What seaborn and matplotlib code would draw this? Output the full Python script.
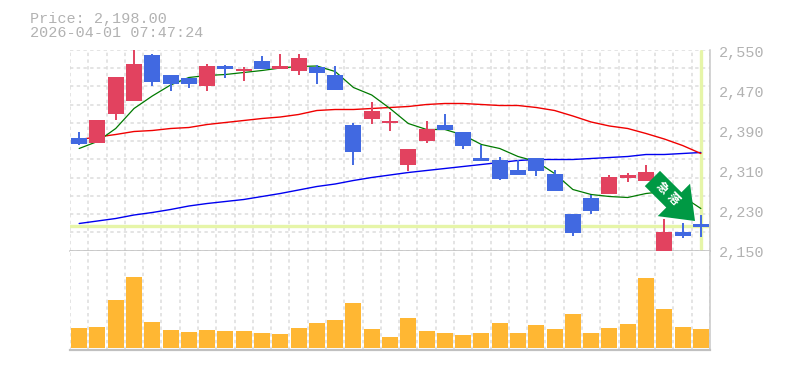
import matplotlib
matplotlib.use("Agg")
import matplotlib.pyplot as plt
import numpy as np
import pandas as pd
import seaborn as sns

sns.set_theme(style="white")

# --- data ---
body_top = [2374,2410,2496,2522,2540,2500,2494,2518,2518,2512,2528,2518,2534,2516,2500,2400,2428,2408,2352,2392,2400,2386,2334,2330,2310,2334,2302,2222,2254,2296,2300,2306,2186,2186,2202]
body_bottom = [2362,2364,2422,2448,2486,2482,2482,2478,2512,2508,2512,2512,2508,2504,2470,2346,2412,2404,2320,2368,2390,2358,2328,2292,2300,2308,2268,2184,2228,2262,2294,2288,2146,2178,2196]
highs = [2386,2410,2496,2550,2542,2500,2494,2522,2520,2516,2538,2542,2542,2520,2518,2404,2446,2426,2352,2408,2422,2386,2360,2336,2330,2334,2310,2222,2260,2300,2304,2320,2212,2204,2220]
lows = [2360,2364,2410,2448,2478,2468,2474,2468,2494,2488,2512,2512,2500,2482,2470,2320,2402,2388,2308,2364,2390,2352,2328,2290,2300,2298,2268,2178,2222,2262,2286,2288,2146,2174,2176]
candle_kind = ["b","r","r","r","b","b","b","r","b","r","b","r","r","b","b","b","r","r","r","r","b","b","b","b","b","b","b","b","b","r","r","r","r","b","b"]
ma_short = [2353,2367,2393,2433,2458,2480,2495,2499,2501,2505,2509,2514,2517,2518,2507,2475,2460,2433,2403,2391,2391,2380,2361,2353,2337,2327,2303,2271,2261,2257,2255,2263,2267,2257,2233]
ma_mid = [2371,2376,2381,2387,2389,2393,2395,2401,2405,2409,2413,2416,2421,2429,2431,2431,2433,2435,2437,2441,2443,2443,2441,2439,2439,2435,2429,2418,2406,2398,2393,2383,2372,2359,2343]
ma_long = [2203,2208,2213,2220,2225,2231,2238,2243,2247,2251,2257,2263,2270,2277,2282,2289,2295,2300,2305,2309,2313,2317,2321,2325,2329,2331,2331,2331,2333,2335,2337,2341,2341,2343,2345]
volumes = [200,210,480,710,260,180,160,180,170,170,150,140,200,250,280,450,190,110,300,170,150,130,150,250,150,230,190,340,150,200,240,700,390,210,190]
price_ticks = [2550,2470,2390,2310,2230,2150]
date_idx = [4,9,14,19,24,29,34]
date_labels = ["2/16","2/24","3/3","3/10","3/17","3/25","4/1"]
last_price = 2198
signal_chars = ["急", "落"]
signal_x = [31.86, 32.46]
signal_y = [2275, 2252]

MONO = "Liberation Mono"
GREY = "#b2b2b2"
W, H = 785, 370
df = pd.DataFrame({"i": np.arange(len(volumes)), "vol": volumes, "short": ma_short, "mid": ma_mid, "long": ma_long})

fig = plt.figure(figsize=(W/100, H/100), dpi=100, facecolor="white")
ax = fig.add_axes([70/W, 1-250.5/H, 640/W, 200.5/H])
axv = fig.add_axes([70/W, 1-350/H, 640/W, 99.5/H])

for a in (ax, axv):
    a.set_xlim(-0.5, 34.5)
    a.set_facecolor("white")
    a.set_xticks(np.arange(-0.5, 35, 1))
    a.tick_params(length=0, labelbottom=False, labelleft=False)
    a.grid(axis="x", color="#dcdcdc", linestyle=(0, (2.2, 2.2)), linewidth=1.1)
    a.set_axisbelow(True)
    for s in ("left", "top"):
        a.spines[s].set_visible(False)
    a.spines["right"].set_color("#c8c8c8")
    a.spines["right"].set_linewidth(1.1)
    a.spines["bottom"].set_color("#c0c0c0")

ax.set_ylim(2149, 2550)
ax.set_yticks(np.arange(2149, 2551, 36.45))
ax.grid(axis="y", color="#dcdcdc", linestyle=(0, (2.2, 2.2)), linewidth=1.1)
ax.spines["bottom"].set_linewidth(1.1)
axv.spines["bottom"].set_linewidth(1.6)

# highlight lines
ax.axhline(last_price, color="#e6f5a8", lw=2.4, zorder=1.2)
ax.axvline(34, ymin=0.005, ymax=0.995, color="#e6f5a8", lw=2.4, zorder=1.2)

# moving averages
sns.lineplot(data=df, x="i", y="long", color="#0000f0", lw=1.0, ax=ax, zorder=2)
sns.lineplot(data=df, x="i", y="mid", color="#f00000", lw=1.0, ax=ax, zorder=2)
sns.lineplot(data=df, x="i", y="short", color="#007a00", lw=0.9, ax=ax, zorder=2)
ax.set_xlabel(""); ax.set_ylabel("")

# candles
colors = {"r": "#e2425f", "b": "#4169e1"}
for i, k in enumerate(candle_kind):
    c = colors[k]
    ax.vlines(i, lows[i], highs[i], color=c, lw=1.4, zorder=3, clip_on=False)
    ax.bar(i, body_top[i]-body_bottom[i], bottom=body_bottom[i], width=0.875, color=c, lw=0, zorder=3, clip_on=False)

# signal arrow
ax.annotate("", xy=(33.68, 2208), xytext=(31.35, 2293),
            arrowprops=dict(arrowstyle="simple,head_length=21.5,head_width=33,tail_width=15.5",
                            mutation_scale=1, color="#009944", lw=0, shrinkA=0, shrinkB=0), zorder=6)
for ch, sx, sy in zip(signal_chars, signal_x, signal_y):
    ax.text(sx, sy, ch, color="white", fontsize=8.5, fontweight="bold", rotation=-45,
            ha="center", va="center", family=["Noto Sans CJK JP", "DejaVu Sans"], zorder=7)

# volume
sns.barplot(data=df, x="i", y="vol", color="#ffb733", saturation=1, width=0.875, ax=axv, native_scale=True, zorder=3, linewidth=0)
axv.set_xlim(-0.5, 34.5)
axv.set_ylim(-20, 975)
axv.set_yticks([])
axv.set_xlabel(""); axv.set_ylabel("")
axv.tick_params(length=0, labelbottom=False, labelleft=False)

# price labels
for p in price_ticks:
    ax.text(1+9/640, p-6, f"{p:,}", transform=ax.get_yaxis_transform(),
            ha="left", va="center", family=MONO, fontsize=10.9, color=GREY, clip_on=False)
# date labels
for i, lab in zip(date_idx, date_labels):
    ax.annotate(lab, xy=(i, 0), xycoords=("data", "axes fraction"), xytext=(0, -3), textcoords="offset points",
                ha="center", va="top", family=MONO, fontsize=7, color=GREY, zorder=8, annotation_clip=False)

fig.text(30/W, 1-18.5/H, "Price: 2,198.00", family=MONO, fontsize=10.9, color=GREY, ha="left", va="center")
fig.text(30/W, 1-33/H, "2026-04-01 07:47:24", family=MONO, fontsize=10.9, color=GREY, ha="left", va="center")

fig.savefig("out.png", dpi=100, facecolor="white")
